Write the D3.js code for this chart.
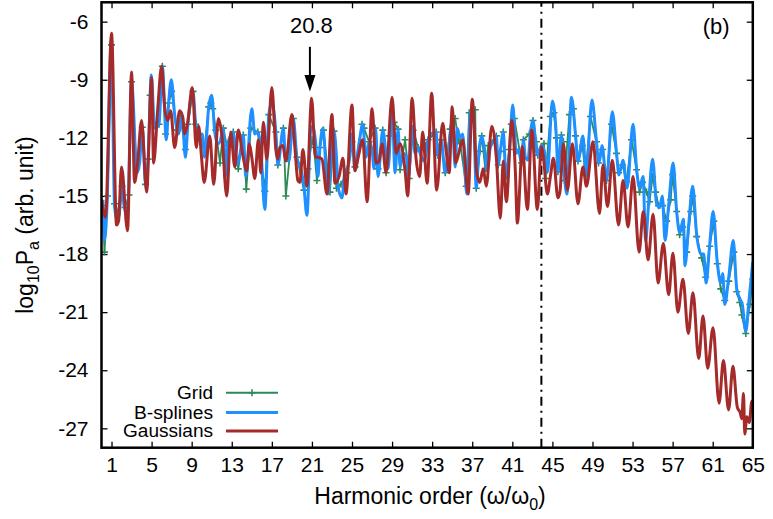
<!DOCTYPE html>
<html><head><meta charset="utf-8">
<script src="https://cdn.jsdelivr.net/npm/d3@7"></script>
<style>
body{margin:0;background:#fff}
svg{display:block}
text{font-family:"Liberation Sans",Arial,Helvetica,sans-serif;fill:#000}
</style>
</head><body>
<svg id="chart" width="773" height="519"></svg>
<script>
// ---- data (harmonic order, log10 Pa) ----
const xTicks = [1,5,9,13,17,21,25,29,33,37,41,45,49,53,57,61,65];
const yTicks = [-6,-9,-12,-15,-18,-21,-24,-27];
const cutoffOrder = 43.9;
const markedOrder = 20.8;
const seriesNames = ["Grid","B-splines","Gaussians"];

const gaussians = [
[0.0,-15.2],[0.4,-16.1],[1.0,-6.6],[1.5,-16.5],[1.7,-16.3],[2.0,-13.5],[2.6,-16.8],[3.0,-8.6],[3.3,-14.3],[3.6,-13.3],
[4.0,-11.1],[4.5,-14.8],[5.0,-8.9],[5.2,-13.3],[5.6,-10.6],[6.0,-8.3],[6.3,-10.4],[6.6,-11.1],[6.9,-10.6],[7.3,-12.5],
[7.8,-10.6],[8.1,-10.9],[8.3,-11.8],[8.6,-11.2],[9.06,-9.4],[9.46,-12.5],[9.7,-11.4],[9.95,-12.8],[10.25,-14.3],[10.8,-11.9],
[11.2,-14.4],[11.66,-11.0],[12.0,-11.8],[12.5,-15.0],[12.9,-11.7],[13.3,-13.5],[13.65,-11.6],[14.1,-12.9],[14.5,-13.7],[14.75,-12.3],
[15.0,-13.0],[15.3,-14.1],[15.65,-12.1],[15.9,-13.8],[16.15,-11.2],[16.5,-13.1],[17.0,-9.4],[17.4,-12.6],[17.6,-13.1],[17.8,-12.5],
[18.1,-12.4],[18.4,-13.2],[19.0,-10.8],[19.3,-12.5],[19.6,-14.2],[19.8,-14.3],[20.1,-12.6],[20.5,-14.5],[20.97,-9.96],[21.35,-13.0],
[21.6,-13.0],[22.0,-13.1],[22.5,-14.9],[23.0,-10.8],[23.3,-14.35],[23.7,-14.0],[24.1,-13.05],[24.4,-14.9],[25.0,-10.3],[25.3,-13.7],
[25.6,-13.05],[26.07,-12.1],[26.5,-15.3],[27.0,-10.5],[27.4,-13.3],[27.7,-13.2],[28.0,-12.3],[28.4,-13.8],[29.0,-9.9],[29.4,-12.8],
[29.8,-12.3],[30.3,-13.7],[30.56,-15.0],[31.0,-9.96],[31.4,-13.1],[31.75,-14.0],[32.05,-11.7],[32.5,-14.35],[32.95,-9.7],[33.45,-14.7],
[34.05,-11.25],[34.4,-12.7],[34.7,-13.8],[35.0,-10.4],[35.35,-13.3],[35.6,-12.9],[36.05,-12.1],[36.6,-14.9],[37.0,-10.0],[37.45,-13.8],
[37.75,-14.3],[38.1,-13.6],[38.4,-14.5],[38.95,-11.4],[39.4,-13.0],[39.8,-16.15],[40.1,-13.2],[40.4,-15.3],[40.95,-11.1],[41.3,-13.7],
[41.5,-16.4],[42.0,-12.45],[42.5,-15.7],[42.95,-11.6],[43.5,-15.7],[43.9,-12.45],[44.1,-13.0],[44.5,-14.9],[44.8,-14.0],[45.1,-13.05],
[45.55,-15.1],[45.75,-14.8],[46.1,-12.3],[46.5,-14.7],[47.0,-12.3],[47.55,-15.4],[48.05,-13.5],[48.4,-14.5],[49.05,-12.2],[49.7,-15.9],
[50.05,-13.4],[50.5,-15.55],[50.98,-13.15],[51.6,-16.5],[52.05,-14.2],[52.55,-16.6],[53.05,-14.0],[53.65,-17.9],[54.07,-15.8],[54.55,-18.3],
[55.05,-15.95],[55.55,-19.5],[56.07,-17.45],[56.6,-20.1],[57.03,-17.96],[57.52,-21.0],[58.03,-19.3],[58.56,-22.1],[59.03,-20.0],[59.6,-23.4],
[60.03,-21.2],[60.5,-23.9],[61.03,-21.8],[61.63,-25.7],[62.07,-23.5],[62.58,-26.05],[63.02,-23.8],[63.45,-25.9],[63.75,-26.2],[63.9,-26.5],
[64.07,-25.2],[64.2,-27.3],[64.4,-26.4],[64.65,-26.7],[64.9,-25.6],[65.0,-26.0]
];

const bsplines = [
[0.15,-15.2],[0.3,-17.3],[0.55,-15.5],[0.98,-6.9],[1.3,-15.5],[1.55,-16.25],[1.75,-16.0],[2.05,-14.5],[2.25,-15.5],[2.6,-16.0],
[3.0,-9.1],[3.55,-13.8],[3.8,-13.3],[4.07,-11.45],[4.4,-14.4],[4.65,-13.1],[4.97,-8.75],[5.3,-11.5],[5.74,-11.3],[6.07,-8.3],
[6.47,-12.1],[6.7,-10.2],[6.97,-9.0],[7.3,-10.8],[7.7,-11.8],[8.05,-10.9],[8.37,-13.0],[8.62,-11.3],[9.13,-9.6],[9.4,-11.3],
[9.73,-11.85],[10.05,-11.8],[10.3,-13.0],[10.7,-10.4],[11.0,-9.8],[11.3,-11.7],[11.6,-12.3],[11.83,-12.2],[12.16,-11.5],[12.33,-14.1],
[12.6,-12.3],[13.0,-11.8],[13.15,-11.7],[13.5,-13.4],[13.8,-12.9],[14.15,-11.85],[14.4,-14.0],[15.0,-10.5],[15.3,-11.8],[15.6,-11.7],
[15.9,-12.6],[16.3,-15.7],[16.7,-10.8],[17.0,-10.2],[17.4,-11.7],[17.6,-13.4],[18.15,-11.5],[18.35,-13.0],[18.7,-13.2],[19.14,-11.0],
[19.5,-13.0],[19.9,-13.6],[20.2,-14.5],[20.5,-16.0],[20.9,-11.5],[21.1,-11.4],[21.4,-12.4],[21.6,-14.0],[21.8,-12.5],[22.1,-11.5],
[22.6,-14.9],[23.2,-11.65],[23.45,-13.0],[23.6,-14.5],[24.0,-15.1],[24.3,-13.7],[24.5,-13.6],[24.8,-12.9],[25.0,-11.8],[25.3,-13.7],
[25.7,-12.3],[26.07,-11.3],[26.4,-13.0],[26.7,-12.2],[27.0,-12.6],[27.2,-13.6],[27.35,-11.5],[27.6,-14.0],[28.07,-11.6],[28.35,-12.6],
[28.6,-13.6],[29.0,-10.5],[29.3,-13.8],[29.6,-11.55],[29.8,-13.5],[30.1,-12.8],[30.4,-12.9],[30.65,-14.0],[31.0,-11.4],[31.3,-12.8],
[31.6,-12.5],[31.8,-12.8],[32.2,-13.2],[32.6,-12.1],[32.9,-11.8],[33.4,-11.7],[33.55,-12.9],[33.9,-12.1],[34.3,-13.8],[34.6,-12.8],
[35.0,-11.1],[35.3,-13.5],[35.5,-11.5],[35.8,-12.0],[36.05,-11.8],[36.45,-14.9],[36.8,-10.7],[37.1,-10.5],[37.4,-14.6],[37.7,-12.5],
[37.95,-11.9],[38.2,-12.5],[38.5,-13.7],[38.8,-12.5],[39.1,-12.2],[39.4,-11.9],[39.6,-13.4],[39.8,-12.7],[40.1,-11.7],[40.37,-14.0],
[40.7,-12.8],[41.04,-10.3],[41.4,-12.8],[41.6,-12.6],[41.93,-13.3],[42.1,-12.1],[42.3,-13.0],[42.56,-13.15],[42.8,-11.8],[43.06,-11.1],
[43.5,-12.9],[43.9,-12.4],[44.16,-12.6],[44.5,-13.8],[45.0,-10.1],[45.4,-12.0],[45.55,-13.8],[45.9,-11.85],[46.2,-14.0],[46.45,-14.9],
[46.9,-9.9],[47.3,-11.8],[47.55,-13.2],[48.05,-11.9],[48.35,-14.0],[48.95,-10.05],[49.4,-12.2],[49.65,-13.3],[49.95,-12.4],[50.4,-14.2],
[50.98,-10.65],[51.4,-12.8],[51.65,-13.9],[52.05,-13.15],[52.45,-14.6],[53.05,-11.3],[53.4,-13.6],[53.7,-14.6],[54.05,-14.0],[54.3,-17.3],
[54.6,-15.4],[55.0,-13.1],[55.4,-15.4],[55.7,-15.6],[55.97,-15.0],[56.24,-17.3],[56.6,-15.5],[57.05,-13.3],[57.4,-15.8],[57.7,-16.9],
[58.07,-16.2],[58.23,-18.6],[58.6,-16.5],[59.0,-14.5],[59.4,-17.0],[59.8,-18.0],[60.1,-18.0],[60.34,-19.5],[60.7,-17.5],[61.04,-15.8],
[61.45,-18.4],[61.8,-19.5],[62.0,-19.0],[62.2,-20.6],[62.6,-19.2],[63.05,-17.3],[63.4,-19.8],[63.7,-20.3],[63.95,-20.6],[64.3,-22.0],
[64.6,-20.5],[65.0,-18.4]
];

const grid = [
[0.1,-15.5],[0.3,-17.9],[0.6,-15.0],[1.0,-7.2],[1.3,-15.4],[1.6,-15.9],[2.05,-14.5],[2.35,-15.6],[2.75,-14.95],[3.0,-9.1],
[3.5,-13.6],[4.07,-11.45],[4.4,-14.4],[4.65,-13.1],[4.85,-9.8],[5.2,-11.2],[5.74,-11.3],[6.07,-8.3],[6.4,-11.8],[6.7,-10.2],
[7.0,-9.6],[7.5,-11.6],[7.9,-11.0],[8.37,-12.6],[8.62,-11.3],[9.13,-9.6],[9.4,-11.3],[9.73,-11.85],[10.3,-12.5],[10.7,-10.4],
[10.9,-10.2],[11.1,-10.5],[11.4,-11.6],[11.83,-13.3],[12.16,-11.5],[12.5,-12.4],[13.15,-11.7],[13.65,-13.6],[14.15,-11.85],[14.45,-14.65],
[14.9,-11.5],[15.6,-11.7],[16.3,-14.75],[16.7,-10.8],[17.4,-11.7],[17.6,-13.4],[18.15,-11.5],[18.4,-15.0],[19.14,-11.0],[19.5,-13.0],
[20.2,-14.7],[20.6,-13.6],[21.0,-12.1],[21.2,-12.5],[21.5,-14.2],[21.8,-12.5],[22.15,-11.6],[22.8,-14.8],[23.2,-11.65],[23.45,-14.6],
[23.9,-14.4],[24.5,-13.8],[25.0,-12.2],[25.3,-13.5],[26.0,-11.3],[26.2,-11.5],[26.7,-12.2],[27.3,-11.5],[27.6,-13.6],[28.07,-11.6],
[28.4,-13.8],[28.7,-11.9],[29.2,-11.2],[29.6,-11.55],[29.8,-13.65],[30.3,-12.1],[30.7,-14.1],[31.1,-11.6],[31.6,-12.5],[31.95,-12.5],
[32.3,-12.4],[32.6,-12.1],[33.4,-11.7],[33.55,-12.9],[33.9,-12.1],[34.3,-13.8],[34.8,-11.55],[35.3,-11.0],[35.6,-12.1],[35.8,-12.3],
[36.4,-14.5],[36.7,-10.7],[37.3,-10.55],[37.4,-14.6],[37.75,-12.7],[37.95,-11.9],[38.3,-13.6],[38.6,-12.4],[39.4,-11.9],[39.6,-13.4],
[39.8,-12.7],[40.1,-11.7],[40.37,-14.0],[40.7,-12.6],[40.9,-11.3],[41.2,-11.0],[41.93,-13.3],[42.1,-12.1],[42.7,-11.8],[43.06,-11.1],
[43.4,-12.2],[43.55,-12.9],[44.16,-12.3],[44.3,-14.1],[44.8,-10.9],[45.15,-10.7],[45.4,-12.0],[45.55,-13.75],[45.9,-11.85],[46.1,-12.2],
[46.2,-14.2],[46.7,-10.8],[47.1,-10.5],[47.3,-11.9],[47.55,-13.2],[48.0,-12.4],[48.3,-13.9],[48.8,-10.9],[49.4,-12.2],[49.6,-13.3],
[50.0,-12.6],[50.4,-14.2],[50.9,-11.3],[51.4,-12.8],[51.6,-13.8],[52.0,-13.4],[52.4,-14.25],[52.9,-12.1],[53.4,-13.65],[53.7,-14.8],
[54.0,-14.3],[54.4,-14.8],[54.7,-15.3],[55.0,-14.0],[55.3,-14.8],[55.6,-15.5],[56.0,-15.5],[56.4,-16.3],[56.8,-15.2],[57.0,-13.9],
[57.4,-15.8],[57.7,-17.0],[58.0,-16.6],[58.4,-17.9],[58.8,-15.8],[59.0,-15.0],[59.4,-17.1],[59.9,-18.2],[60.3,-19.2],[60.7,-17.6],
[61.1,-16.3],[61.46,-18.5],[61.8,-19.8],[62.2,-20.4],[62.6,-19.4],[63.1,-17.9],[63.4,-19.95],[63.7,-20.5],[63.9,-21.15],[64.3,-22.1],
[64.7,-20.6],[65.0,-19.3]
];

// ---- layout ----
const W = 773, H = 519;
const margin = {left:101.5, right:20.2, top:2.3, bottom:71.3};
const colors = {grid:"#2e8b57", spline:"#1e90ff", gauss:"#a52a2a"};
const font = "'Liberation Sans',Arial,sans-serif";

const svg = d3.select("#chart");
const x = d3.scaleLinear().domain([0,65]).range([margin.left, W-margin.right]);
const y = d3.scaleLinear().domain([-28,-5]).range([H-margin.bottom, margin.top]);

svg.append("defs").append("clipPath").attr("id","clip")
  .append("rect").attr("x",x(0)).attr("y",y(-5)).attr("width",x(65)-x(0)).attr("height",y(-28)-y(-5));

// axes
const fs = 21;
const gx = svg.append("g").attr("transform",`translate(0,${y(-28)})`)
  .call(d3.axisBottom(x).tickValues(xTicks).tickSize(-6).tickPadding(9).tickFormat(d3.format("d")));
const gxt = svg.append("g").attr("transform",`translate(0,${y(-5)})`)
  .call(d3.axisTop(x).tickValues(xTicks).tickSize(-6).tickFormat(""));
const gy = svg.append("g").attr("transform",`translate(${x(0)},0)`)
  .call(d3.axisLeft(y).tickValues(yTicks).tickSize(-6).tickPadding(13).tickFormat(d=>String(d)));
const gyr = svg.append("g").attr("transform",`translate(${x(65)},0)`)
  .call(d3.axisRight(y).tickValues(yTicks).tickSize(-6).tickFormat(""));
[gx,gxt,gy,gyr].forEach(g=>{
  g.select(".domain").remove();
  g.selectAll(".tick line").attr("stroke","#000").attr("stroke-width",1.3);
  g.selectAll("text").attr("font-size",fs).attr("font-family",font).attr("fill","#000");
});

// cutoff line
svg.append("line")
  .attr("x1",x(cutoffOrder)).attr("x2",x(cutoffOrder))
  .attr("y1",y(-28)).attr("y2",y(-5))
  .attr("stroke","#000").attr("stroke-width",2)
  .attr("stroke-dasharray","9,5,2,5");

// series
const lineLin = d3.line().x(d=>x(d[0])).y(d=>y(d[1]));
const lineSmooth = d3.line().x(d=>x(d[0])).y(d=>y(d[1])).curve(d3.curveMonotoneX);
const series = svg.append("g").attr("clip-path","url(#clip)");

series.append("path").datum(grid).attr("d",lineLin)
  .attr("fill","none").attr("stroke",colors.grid).attr("stroke-width",1.8).attr("stroke-linejoin","round");
series.append("g").selectAll("path").data(grid).join("path")
  .attr("d",d=>`M${x(d[0])-3.5},${y(d[1])}h7M${x(d[0])},${y(d[1])-3.5}v7`)
  .attr("stroke",colors.grid).attr("stroke-width",1.6);

series.append("path").datum(bsplines).attr("d",lineSmooth)
  .attr("fill","none").attr("stroke",colors.spline).attr("stroke-width",3).attr("stroke-linejoin","round");

series.append("path").datum(gaussians).attr("d",lineSmooth)
  .attr("fill","none").attr("stroke",colors.gauss).attr("stroke-width",3).attr("stroke-linejoin","round");

// border
svg.append("rect").attr("x",x(0)).attr("y",y(-5)).attr("width",x(65)-x(0)).attr("height",y(-28)-y(-5))
  .attr("fill","none").attr("stroke","#000").attr("stroke-width",2.5);

// arrow annotation
const ax = x(markedOrder);
svg.append("line").attr("x1",ax).attr("x2",ax).attr("y1",y(-7.3)).attr("y2",y(-8.9))
  .attr("stroke","#000").attr("stroke-width",2);
svg.append("path")
  .attr("d",`M${ax-5.5},${y(-8.75)}L${ax+5.5},${y(-8.75)}L${ax},${y(-9.6)}Z`).attr("fill","#000");
svg.append("text").attr("x",ax+1.5).attr("y",y(-6.6)).attr("text-anchor","middle")
  .attr("font-size",22).text(String(markedOrder));

// panel label
svg.append("text").attr("x",x(61.35)).attr("y",y(-6.65)).attr("text-anchor","middle")
  .attr("font-size",22).text("(b)");

// axis titles
const xt = svg.append("text").attr("x",430).attr("y",504).attr("text-anchor","middle").attr("font-size",23);
xt.append("tspan").text("Harmonic order (ω/ω");
xt.append("tspan").attr("font-size",16).attr("dy",6).text("0");
xt.append("tspan").attr("dy",-6).text(")");

const yt = svg.append("text").attr("transform",`translate(33,${(y(-5)+y(-28))/2}) rotate(-90)`)
  .attr("text-anchor","middle").attr("font-size",23);
yt.append("tspan").text("log");
yt.append("tspan").attr("font-size",16).attr("dy",6).text("10");
yt.append("tspan").attr("dy",-6).text("P");
yt.append("tspan").attr("font-size",16).attr("dy",6).text("a");
yt.append("tspan").attr("dy",-6).text(" (arb. unit)");

// legend
const legend = svg.append("g");
const legColors = [colors.grid, colors.spline, colors.gauss];
const legY = [392.7, 412.5, 431];
const legW = [36, 79, 90];
seriesNames.forEach((name,i)=>{
  legend.append("text").attr("x",213).attr("y",legY[i]+6.3).attr("text-anchor","end")
    .attr("font-size",17.5).attr("textLength",legW[i]).attr("lengthAdjust","spacingAndGlyphs")
    .text(name);
  legend.append("line").attr("x1",226).attr("x2",278).attr("y1",legY[i]).attr("y2",legY[i])
    .attr("stroke",legColors[i]).attr("stroke-width", i===0?2:3);
  if(i===0){
    legend.append("path").attr("d",`M248.5,${legY[i]}h7M252,${legY[i]-3.5}v7`)
      .attr("stroke",colors.grid).attr("stroke-width",1.6);
  }
});
</script>
</body></html>
